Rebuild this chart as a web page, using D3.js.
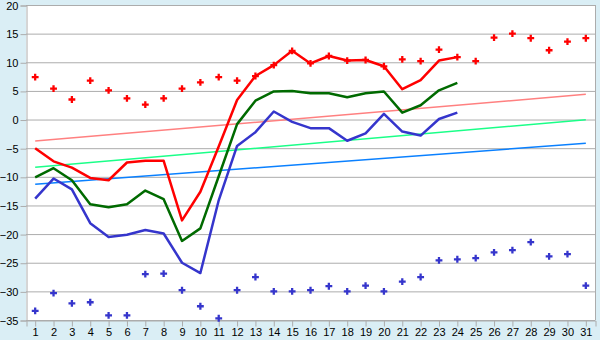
<!DOCTYPE html>
<html>
<head>
<meta charset="utf-8">
<script src="https://cdn.jsdelivr.net/npm/d3@7"></script>
<style>
  body { margin: 0; background: #daeef5; }
  svg { display: block; font-family: "Liberation Sans", sans-serif; }
</style>
</head>
<body>
<div class="canvas"></div>
<script>
// days of the month
const days = d3.range(1, 32);

// daily lines (days 1-24)
const redLine = [-5.0, -7.3, -8.4, -10.2, -10.6, -7.5, -7.2, -7.2, -17.6, -12.6, -4.7, 3.4,
  7.6, 9.5, 12.0, 9.8, 11.1, 10.3, 10.4, 9.3, 5.3, 6.9, 10.3, 10.9];
const greenLine = [-10.1, -8.5, -10.6, -14.8, -15.3, -14.8, -12.4, -13.9, -21.2, -19.0, -9.9, -0.8,
  3.3, 4.9, 5.0, 4.6, 4.6, 3.9, 4.6, 4.9, 1.2, 2.5, 5.1, 6.4];
const blueLine = [-13.8, -10.3, -12.2, -18.1, -20.5, -20.1, -19.3, -19.9, -25.0, -26.8, -14.1, -4.6,
  -2.2, 1.4, -0.4, -1.5, -1.5, -3.7, -2.4, 1.0, -2.1, -2.8, 0.1, 1.2];

// scatter: highs and lows for each day
const redPts = [7.4, 5.4, 3.5, 6.8, 5.1, 3.7, 2.6, 3.7, 5.4, 6.5, 7.4, 6.8,
  7.6, 9.5, 12.0, 9.8, 11.1, 10.3, 10.4, 9.3, 10.5, 10.2, 12.2, 10.9, 10.2,
  14.3, 15.0, 14.2, 12.1, 13.6, 14.2];
const bluePts = [-33.4, -30.3, -32.1, -31.9, -34.2, -34.2, -27.0, -26.9, -29.8, -32.6, -34.7, -29.8,
  -27.5, -30.0, -30.0, -29.8, -29.1, -30.0, -29.0, -30.0, -28.3, -27.5, -24.6, -24.4, -24.2,
  -23.2, -22.8, -21.4, -23.9, -23.5, -29.0];

// trend lines: value on day 1 and day 31
const trendPink = [-3.75, 4.4];
const trendMint = [-8.35, -0.03];
const trendBlue = [-11.3, -4.15];

const yTicks = d3.range(-35, 21, 5);

const W = 600, H = 340;
const m = { t: 5, r: 5, b: 20, l: 26 };

const svg = d3.select('.canvas').append('svg')
  .attr('width', W)
  .attr('height', H);

const x = d3.scaleBand().domain(days).range([m.l, W - m.r]);
const xc = d => x(d) + x.bandwidth() / 2;
const y = d3.scaleLinear().domain([-35, 20]).range([H - m.b, m.t]);

//plot area
svg.append('rect')
  .attr('x', m.l).attr('y', m.t)
  .attr('width', W - m.r - m.l).attr('height', H - m.b - m.t)
  .attr('fill', '#fff');

//grid
svg.append('g').selectAll('line')
  .data(yTicks)
  .enter().append('line')
  .attr('x1', m.l).attr('x2', W - m.r)
  .attr('y1', d => y(d) + 0.5).attr('y2', d => y(d) + 0.5)
  .attr('stroke', '#acacac');

//right border
svg.append('line')
  .attr('x1', W - m.r + 0.5).attr('x2', W - m.r + 0.5)
  .attr('y1', m.t).attr('y2', H - m.b)
  .attr('stroke', '#acacac');

//axes
const yAxis = svg.append('g')
  .attr('transform', `translate(${m.l + 0.5},0.5)`)
  .call(d3.axisLeft(y).tickValues(yTicks).tickSize(6).tickPadding(2));
const xAxis = svg.append('g')
  .attr('transform', `translate(0.5,${H - m.b + 0.5})`)
  .call(d3.axisBottom(x).tickSize(6).tickPadding(2));
[yAxis, xAxis].forEach(a => {
  a.select('.domain').attr('stroke', '#acacac');
  a.selectAll('.tick line').attr('stroke', '#acacac');
  a.selectAll('.tick text').attr('fill', '#000').style('font-size', '11px')
    .style('font-family', '"Liberation Sans", sans-serif');
});

//trend lines
const trends = [[trendPink, '#ff8080'], [trendMint, '#1aff88'], [trendBlue, '#0a80ff']];
trends.forEach(([t, c]) => {
  svg.append('line')
    .attr('x1', xc(1)).attr('y1', y(t[0]))
    .attr('x2', xc(31)).attr('y2', y(t[1]))
    .attr('stroke', c).attr('stroke-width', 1.5);
});

//daily lines
const line = d3.line().x((d, i) => xc(days[i])).y(d => y(d));
[[blueLine, '#3535cc'], [greenLine, '#006a00'], [redLine, '#ff0000']].forEach(([s, c]) => {
  svg.append('path')
    .datum(s)
    .attr('d', line)
    .attr('fill', 'none')
    .attr('stroke', c)
    .attr('stroke-width', 2.5)
    .attr('stroke-linejoin', 'round');
});

//markers
const sym = d3.symbol().type(d3.symbolCross).size(26);
[[redPts, '#ff0000'], [bluePts, '#3535cc']].forEach(([s, c]) => {
  svg.append('g').selectAll('path')
    .data(s)
    .enter().append('path')
    .attr('d', sym)
    .attr('transform', (d, i) => `translate(${xc(days[i])},${y(d)})`)
    .attr('fill', c);
});
</script>
</body>
</html>
